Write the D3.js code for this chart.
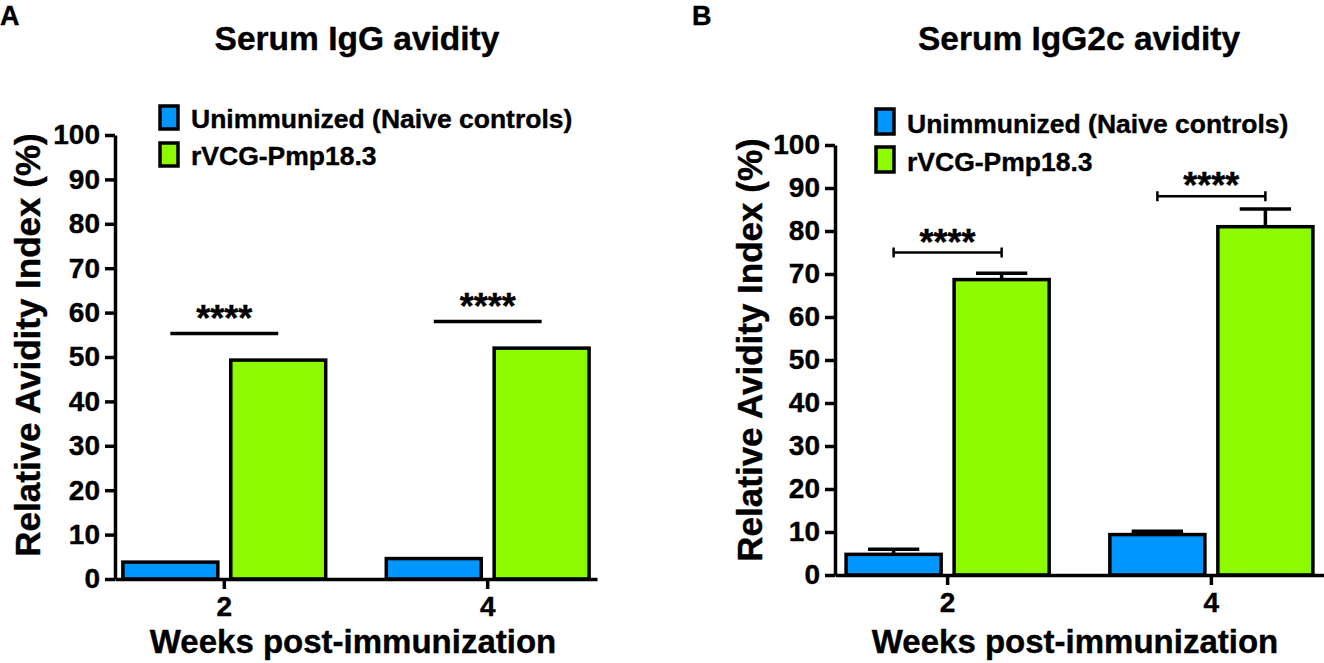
<!DOCTYPE html>
<html>
<head>
<meta charset="utf-8">
<script src="https://cdn.jsdelivr.net/npm/d3@7"></script>
<style>
  body { margin: 0; background: #fff; }
  text { font-family: "Liberation Sans", Arial, sans-serif; font-weight: bold; fill: #000; stroke: #000; stroke-width: 0.4px; }
</style>
</head>
<body>
<svg id="chart"></svg>
<script>
const width = 1324, height = 663;

// données
const weeks = ["2", "4"];
const seriesNames = ["Unimmunized (Naive controls)", "rVCG-Pmp18.3"];
const yTicks = [0, 10, 20, 30, 40, 50, 60, 70, 80, 90, 100];

// A : IgG
const iggNaive = [3.8, 4.6];
const iggVaccine = [49.3, 52.0];
const iggSignif = [55.3, 58.0];

// B : IgG2c (moyenne + erreur)
const igg2cNaive = [4.8, 9.4];
const igg2cNaiveErr = [1.2, 0.8];
const igg2cVaccine = [68.7, 81.0];
const igg2cVaccineErr = [1.5, 4.1];
const igg2cSignif = [75.0, 88.1];

const colors = ["#0096FF", "#8EFA00"];

const svg = d3.select("#chart")
    .attr("width", width)
    .attr("height", height);

function drawPanel(p) {
    const g = svg.append("g");

    const y = d3.scaleLinear().domain([0, 100]).range([p.y0, p.y100]);
    const x0 = d3.scaleBand().domain(weeks)
        .range([p.axisX, p.xEnd])
        .paddingInner(0.23)
        .paddingOuter(p.padOuter);
    const x1 = d3.scaleBand().domain([0, 1])
        .range([0, x0.bandwidth()])
        .paddingInner(0.12);

    // lettre du panneau + titre
    g.append("text").attr("x", p.letterX).attr("y", 25)
        .attr("font-size", 27).text(p.letter);
    g.append("text").attr("x", p.titleX).attr("y", 50)
        .attr("text-anchor", "middle")
        .attr("font-size", 33.5).text(p.title);

    // barres
    const rows = weeks.map((w, i) => ({
        week: w,
        vals: [
            { s: 0, v: p.naive[i], e: p.naiveErr ? p.naiveErr[i] : null },
            { s: 1, v: p.vaccine[i], e: p.vaccineErr ? p.vaccineErr[i] : null }
        ]
    }));

    const grp = g.selectAll(".grp")
        .data(rows)
        .enter().append("g")
        .attr("class", "grp")
        .attr("transform", d => `translate(${x0(d.week)},0)`);

    // barres d'erreur (derrière les barres)
    grp.selectAll(".err")
        .data(d => d.vals.filter(v => v.e !== null))
        .enter().append("path")
        .attr("class", "err")
        .attr("d", d => {
            const cx = x1(d.s) + x1.bandwidth() / 2;
            const cw = x1.bandwidth() * 0.27;
            return `M${cx},${y(d.v)}V${y(d.v + d.e)}M${cx - cw},${y(d.v + d.e)}H${cx + cw}`;
        })
        .attr("fill", "none")
        .attr("stroke", "#000")
        .attr("stroke-width", 3.5);

    grp.selectAll(".bar")
        .data(d => d.vals)
        .enter().append("rect")
        .attr("class", "bar")
        .attr("x", d => x1(d.s))
        .attr("y", d => y(d.v))
        .attr("width", x1.bandwidth())
        .attr("height", d => y(0) - y(d.v))
        .attr("fill", d => colors[d.s])
        .attr("stroke", "#000")
        .attr("stroke-width", 3.5);

    // axes
    const yAxis = g.append("g")
        .attr("transform", `translate(${p.axisX},0)`)
        .call(d3.axisLeft(y).tickValues(yTicks).tickSize(10).tickSizeOuter(0).tickPadding(5));
    yAxis.selectAll("text").attr("font-size", 28).attr("fill", "#000");

    const xAxis = g.append("g")
        .attr("transform", `translate(0,${p.y0})`)
        .call(d3.axisBottom(x0).tickSize(10).tickSizeOuter(0).tickPadding(7));
    xAxis.selectAll("text").attr("font-size", 28).attr("fill", "#000");

    [yAxis, xAxis].forEach(a => {
        a.select(".domain").attr("stroke", "#000").attr("stroke-width", 3.5);
        a.selectAll(".tick line").attr("stroke", "#000").attr("stroke-width", 3.5);
    });

    // titres des axes
    g.append("text")
        .attr("transform", `translate(${p.yTitleX},${p.yTitleY}) rotate(-90)`)
        .attr("text-anchor", "middle")
        .attr("font-size", 35)
        .text("Relative Avidity Index (%)");
    g.append("text")
        .attr("x", p.xTitleX).attr("y", p.xTitleY)
        .attr("text-anchor", "middle")
        .attr("font-size", 33)
        .text("Weeks post-immunization");

    // significativité
    const sig = g.selectAll(".sig")
        .data(rows.map((r, i) => ({ week: r.week, v: p.signif[i] })))
        .enter().append("g")
        .attr("class", "sig");
    const cA = d => x0(d.week) + x1(0) + x1.bandwidth() / 2;
    const cB = d => x0(d.week) + x1(1) + x1.bandwidth() / 2;
    sig.append("path")
        .attr("d", d => {
            let s = `M${cA(d)},${y(d.v)}H${cB(d)}`;
            if (p.bracket) s += `M${cA(d)},${y(d.v) - 5}V${y(d.v) + 5}M${cB(d)},${y(d.v) - 5}V${y(d.v) + 5}`;
            return s;
        })
        .attr("fill", "none")
        .attr("stroke", "#000")
        .attr("stroke-width", p.bracket ? 2.5 : 3.5);
    sig.append("text")
        .attr("x", d => (cA(d) + cB(d)) / 2)
        .attr("y", d => y(d.v) + p.starDy)
        .attr("text-anchor", "middle")
        .attr("font-size", 36)
        .text("****");

    // légende
    const leg = g.selectAll(".leg")
        .data(seriesNames)
        .enter().append("g")
        .attr("class", "leg");
    leg.append("rect")
        .attr("x", p.legX)
        .attr("y", (d, i) => p.legY[i])
        .attr("width", 18)
        .attr("height", p.legH)
        .attr("fill", (d, i) => colors[i])
        .attr("stroke", "#000")
        .attr("stroke-width", 3.5);
    leg.append("text")
        .attr("x", p.legX + 31)
        .attr("y", (d, i) => p.legY[i] + p.legH - 1)
        .attr("font-size", 26.5)
        .text(d => d);
}

drawPanel({
    letter: "A", letterX: 0,
    title: "Serum IgG avidity", titleX: 357,
    axisX: 115, xEnd: 597, padOuter: 0.03,
    y0: 579, y100: 135,
    naive: iggNaive, vaccine: iggVaccine, signif: iggSignif,
    bracket: false, starDy: -2,
    yTitleX: 40, yTitleY: 345,
    xTitleX: 353, xTitleY: 653,
    legX: 160, legY: [106, 143], legH: 23
});

drawPanel({
    letter: "B", letterX: 692,
    title: "Serum IgG2c avidity", titleX: 1079,
    axisX: 835, xEnd: 1324, padOuter: 0.042,
    y0: 575, y100: 145,
    naive: igg2cNaive, vaccine: igg2cVaccine,
    naiveErr: igg2cNaiveErr, vaccineErr: igg2cVaccineErr,
    signif: igg2cSignif,
    bracket: true, starDy: 2,
    yTitleX: 762, yTitleY: 350,
    xTitleX: 1075, xTitleY: 653,
    legX: 876, legY: [109, 147], legH: 25
});
</script>
</body>
</html>
